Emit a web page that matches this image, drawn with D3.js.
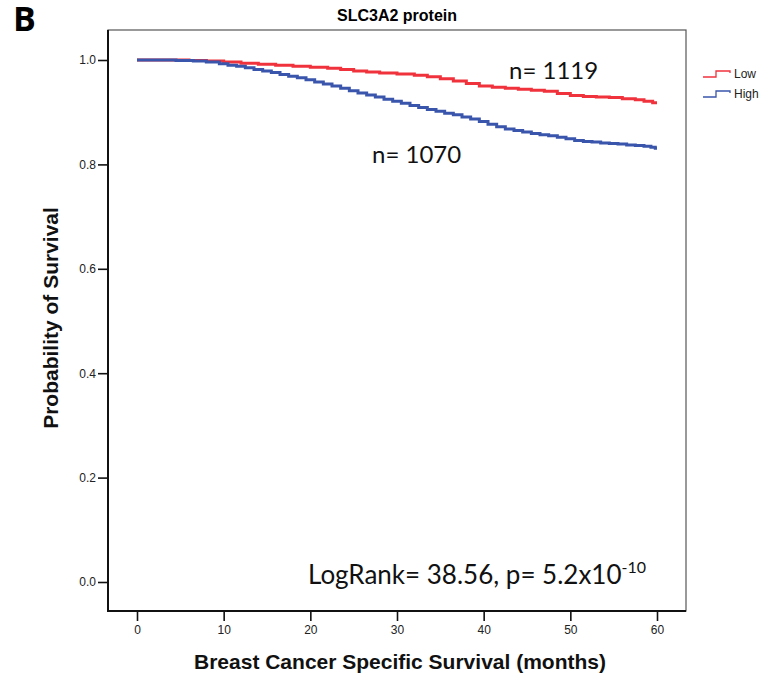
<!DOCTYPE html>
<html>
<head>
<meta charset="utf-8">
<script src="https://cdn.jsdelivr.net/npm/d3@7/dist/d3.min.js"></script>
<style>
  html, body { margin: 0; padding: 0; background: #fff; }
  svg { display: block; }
</style>
</head>
<body>
<svg id="chart" width="766" height="676"></svg>
<script>
// Kaplan–Meier steps: [months, survival probability]
const lowSteps = [
  [0,1.000],[6,0.999],[8,0.998],[10,0.996],[12,0.994],[14,0.992],[16,0.990],[18,0.988],
  [20,0.986],[22,0.984],[23.5,0.982],[25,0.979],[26.5,0.977],[28,0.975],[30,0.973],
  [32,0.971],[33.5,0.968],[35,0.964],[36.5,0.960],[38,0.955],[39.5,0.950],[41,0.948],
  [42.5,0.946],[44,0.944],[45.5,0.942],[47,0.940],[48.5,0.936],[50,0.932],[51.5,0.930],
  [53,0.929],[54.5,0.928],[56,0.926],[57.5,0.924],[58.5,0.921],[59.5,0.918]
];
const highSteps = [
  [0,1.000],[4.5,0.999],[6.5,0.998],[8,0.996],[9.5,0.993],[10.5,0.990],[11.5,0.988],
  [12.5,0.985],[13.5,0.982],[14.5,0.979],[15.5,0.976],[16.5,0.972],[17.5,0.969],
  [18.5,0.966],[19.5,0.962],[20.5,0.958],[21.5,0.954],[22.5,0.950],[23.5,0.946],
  [24.5,0.941],[25.5,0.937],[26.5,0.933],[27.5,0.929],[28.5,0.925],[29.5,0.921],
  [30.5,0.917],[31.5,0.913],[32.5,0.909],[33.5,0.905],[34.5,0.902],[35.5,0.898],
  [36.5,0.895],[37.5,0.891],[38.5,0.887],[39.5,0.882],[40.5,0.877],[41.5,0.872],
  [42.5,0.868],[43.5,0.865],[44.5,0.862],[45.5,0.859],[46.5,0.857],[47.5,0.855],
  [48.5,0.852],[49.5,0.849],[50.5,0.846],[51.5,0.844],[52.5,0.843],[53.5,0.841],
  [54.5,0.840],[55.5,0.839],[56.5,0.837],[57.5,0.836],[58.5,0.835],[59.3,0.833],[59.8,0.831]
];
const followUpEnd = 60;
const groups = ["Low", "High"];
const groupCounts = [1119, 1070];
const xTicks = [0, 10, 20, 30, 40, 50, 60];
const yTicks = [0.0, 0.2, 0.4, 0.6, 0.8, 1.0];
const logRank = "38.56";
const pMantissa = "5.2";
const pExponent = "-10";

const colors = { Low: "#f0323c", High: "#3a55ac" };
const svg = d3.select("#chart");

// plot frame
const frame = { left: 108, top: 30, right: 686, bottom: 611 };
const x = d3.scaleLinear().domain([0, 60]).range([137, 657]);
const y = d3.scaleLinear().domain([0, 1]).range([582, 60]);

svg.append("rect")
  .attr("x", frame.left).attr("y", frame.top)
  .attr("width", frame.right - frame.left).attr("height", frame.bottom - frame.top)
  .attr("fill", "none").attr("stroke", "#555").attr("stroke-width", 1.2);

// y axis
const yAxis = d3.axisLeft(y).tickValues(yTicks).tickFormat(d3.format(".1f")).tickSize(10).tickPadding(2);
const gy = svg.append("g").attr("transform", `translate(${frame.left},0)`).call(yAxis);
gy.select(".domain").remove();
gy.selectAll(".tick line").attr("stroke", "#111").attr("stroke-width", 1.6);
gy.selectAll(".tick text").attr("fill", "#222").style("font", "12px 'Liberation Sans', Arial, sans-serif");
svg.append("line").attr("x1", frame.left).attr("x2", frame.left)
  .attr("y1", frame.top).attr("y2", frame.bottom + 1)
  .attr("stroke", "#111").attr("stroke-width", 2);

// x axis
const xAxis = d3.axisBottom(x).tickValues(xTicks).tickFormat(d3.format("d")).tickSize(10).tickPadding(4);
const gx = svg.append("g").attr("transform", `translate(0,${frame.bottom})`).call(xAxis);
gx.select(".domain").remove();
gx.selectAll(".tick line").attr("stroke", "#111").attr("stroke-width", 1.6);
gx.selectAll(".tick text").attr("fill", "#222").style("font", "12px 'Liberation Sans', Arial, sans-serif");
svg.append("line").attr("x1", frame.left - 1).attr("x2", frame.right)
  .attr("y1", frame.bottom).attr("y2", frame.bottom)
  .attr("stroke", "#111").attr("stroke-width", 2);

// survival curves
const line = d3.line().x(d => x(d[0])).y(d => y(d[1])).curve(d3.curveStepAfter);
const series = [
  { name: "Low", steps: lowSteps },
  { name: "High", steps: highSteps }
];
series.forEach(s => {
  const pts = s.steps.concat([[followUpEnd, s.steps[s.steps.length - 1][1]]]);
  svg.append("path").datum(pts)
    .attr("d", line)
    .attr("fill", "none")
    .attr("stroke", colors[s.name])
    .attr("stroke-width", 3);
});

// legend
const legend = svg.append("g").attr("transform", "translate(703,0)");
groups.forEach((g, i) => {
  const yy = 77 + i * 20;
  legend.append("path")
    .attr("d", `M0,${yy} H13 V${yy - 6} H27 V${yy - 4}`)
    .attr("fill", "none").attr("stroke", colors[g]).attr("stroke-width", 1.3);
  legend.append("text").attr("x", 31).attr("y", yy + 1)
    .attr("fill", "#222")
    .style("font", "12px 'Liberation Sans', Arial, sans-serif")
    .text(g);
});

// titles and labels
svg.append("text").attr("x", 13).attr("y", 31)
  .style("font", "bold 34px 'Open Sans', sans-serif").attr("fill", "#000").text("B");

svg.append("text").attr("x", 397).attr("y", 21).attr("text-anchor", "middle")
  .style("font", "bold 16px 'Liberation Sans', Arial, sans-serif").attr("fill", "#000")
  .text("SLC3A2 protein");

svg.append("text").attr("x", 400).attr("y", 669).attr("text-anchor", "middle")
  .style("font", "bold 21px 'Liberation Sans', Arial, sans-serif").attr("fill", "#111")
  .text("Breast Cancer Specific Survival (months)");

svg.append("text").attr("transform", "translate(58,318) rotate(-90)").attr("text-anchor", "middle")
  .style("font", "bold 21px 'Liberation Sans', Arial, sans-serif").attr("fill", "#111")
  .text("Probability of Survival");

// group sizes
const annFont = "24px Lato, 'Open Sans', sans-serif";
svg.append("text").attr("x", 509).attr("y", 79).style("font", annFont).attr("fill", "#111")
  .text(`n= ${groupCounts[0]}`);
svg.append("text").attr("x", 372).attr("y", 163).style("font", annFont).attr("fill", "#111")
  .text(`n= ${groupCounts[1]}`);

// log-rank result
const lr = svg.append("text").attr("x", 308).attr("y", 584)
  .style("font", "26px Lato, 'Open Sans', sans-serif").attr("fill", "#111");
lr.append("tspan").text(`LogRank= ${logRank}, p= ${pMantissa}x10`);
lr.append("tspan").attr("dy", -11).style("font-size", "16px").text(pExponent);
</script>
</body>
</html>
